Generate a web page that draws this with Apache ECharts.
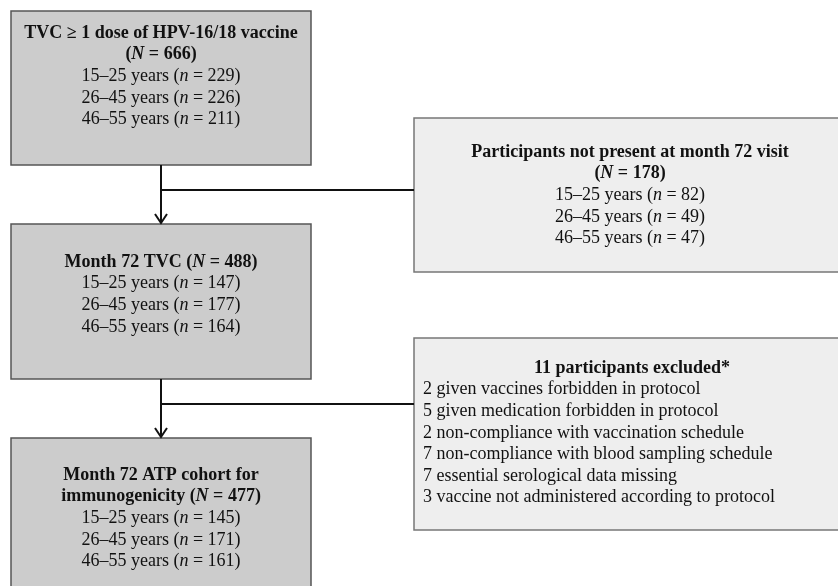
<!DOCTYPE html>
<html><head><meta charset="utf-8">
<script src="https://cdn.jsdelivr.net/npm/echarts@6/dist/echarts.min.js"></script>
<style>html,body{margin:0;padding:0;background:#fff}#c{width:838px;height:586px}</style>
</head><body><div id="c"></div>
<script>
// ---- data ----
const stageTitles = [
  ['TVC \u2265 1 dose of HPV-16/18 vaccine', ''],
  ['Month 72 TVC '],
  ['Month 72 ATP cohort for', 'immunogenicity ']
];
const stageTotals = [666, 488, 477];
const ageGroups = ['15\u201325 years', '26\u201345 years', '46\u201355 years'];
const stageCounts = [[229, 226, 211], [147, 177, 164], [145, 171, 161]];
const notPresentTitle = 'Participants not present at month 72 visit';
const notPresentTotal = 178;
const notPresentCounts = [82, 49, 47];
const excludedTotal = 11;
const exclusionReasons = [
  'given vaccines forbidden in protocol',
  'given medication forbidden in protocol',
  'non-compliance with vaccination schedule',
  'non-compliance with blood sampling schedule',
  'essential serological data missing',
  'vaccine not administered according to protocol'
];
const exclusionCounts = [2, 5, 2, 7, 7, 3];

// ---- layout ----
const FONT = '"Liberation Serif", "Times New Roman", serif';
const FS = 18, LH = 21.6;
const rich = {
  r: {fontFamily: FONT, fontSize: FS, fill: '#111'},
  i: {fontFamily: FONT, fontSize: FS, fontStyle: 'italic', fill: '#111'},
  b: {fontFamily: FONT, fontSize: FS, fontWeight: 'bold', fill: '#111'},
  bi: {fontFamily: FONT, fontSize: FS, fontWeight: 'bold', fontStyle: 'italic', fill: '#111'}
};
function esc(s){ return s.replace(/[{}|]/g, ''); }
function totalLine(prefix, total){
  return (prefix ? '{b|' + esc(prefix) + '}' : '') + '{b|(}{bi|N}{b| = ' + total + ')}';
}
function ageLine(label, n){
  return '{r|' + label + ' (}{i|n}{r| = ' + n + ')}';
}
function textEl(str, x, y, align){
  return {type: 'text', x: x, y: y, style: {text: str, rich: rich, align: align || 'center', verticalAlign: 'middle', font: FS + 'px ' + FONT}};
}

const leftBox = {x: 11, w: 300};
const stageBoxes = [{y: 11, h: 154, firstLine: 33}, {y: 224, h: 155, firstLine: 262}, {y: 438, h: 160, firstLine: 475}];
const rightX = 414, rightW = 432;
const npBox = {y: 118, h: 154, firstLine: 152};
const exBox = {y: 338, h: 192, firstLine: 368};
const trunkX = 161;

const els = [];
stageBoxes.forEach((b, k) => {
  els.push({type: 'rect', shape: {x: leftBox.x, y: b.y, width: leftBox.w, height: b.h},
    style: {fill: '#cccccc', stroke: '#555', lineWidth: 1.5}});
  const cx = leftBox.x + leftBox.w / 2;
  let y = b.firstLine;
  const t = stageTitles[k];
  t.forEach((line, j) => {
    const s = (j === t.length - 1) ? totalLine(line, stageTotals[k]) : '{b|' + esc(line) + '}';
    els.push(textEl(s, cx, y)); y += LH;
  });
  ageGroups.forEach((g, j) => { els.push(textEl(ageLine(g, stageCounts[k][j]), cx, y)); y += LH; });
});

// right boxes
els.push({type: 'rect', shape: {x: rightX, y: npBox.y, width: rightW, height: npBox.h},
  style: {fill: '#eeeeee', stroke: '#777', lineWidth: 1.5}});
{
  const cx = 630; let y = npBox.firstLine;
  els.push(textEl('{b|' + notPresentTitle + '}', cx, y)); y += LH;
  els.push(textEl(totalLine('', notPresentTotal), cx, y)); y += LH;
  ageGroups.forEach((g, j) => { els.push(textEl(ageLine(g, notPresentCounts[j]), cx, y)); y += LH; });
}
els.push({type: 'rect', shape: {x: rightX, y: exBox.y, width: rightW, height: exBox.h},
  style: {fill: '#eeeeee', stroke: '#777', lineWidth: 1.5}});
{
  let y = exBox.firstLine;
  els.push(textEl('{b|' + excludedTotal + ' participants excluded*}', 632, y)); y += LH;
  exclusionReasons.forEach((r, j) => { els.push(textEl('{r|' + exclusionCounts[j] + ' ' + r + '}', 423, y, 'left')); y += LH; });
}

// connectors
const lineStyle = {stroke: '#111', lineWidth: 2, fill: null};
function arrow(y1, y2){
  els.push({type: 'line', shape: {x1: trunkX, y1: y1, x2: trunkX, y2: y2 - 1}, style: lineStyle});
  els.push({type: 'polyline', shape: {points: [[trunkX - 6, y2 - 10], [trunkX, y2 - 1], [trunkX + 6, y2 - 10]]}, style: lineStyle});
}
arrow(165, 224);
arrow(379, 438);
els.push({type: 'line', shape: {x1: trunkX, y1: 190, x2: rightX, y2: 190}, style: lineStyle});
els.push({type: 'line', shape: {x1: trunkX, y1: 404, x2: rightX, y2: 404}, style: lineStyle});

const chart = echarts.init(document.getElementById('c'), null, {renderer: 'canvas'});
chart.setOption({animation: false, graphic: {elements: els}});
</script></body></html>
